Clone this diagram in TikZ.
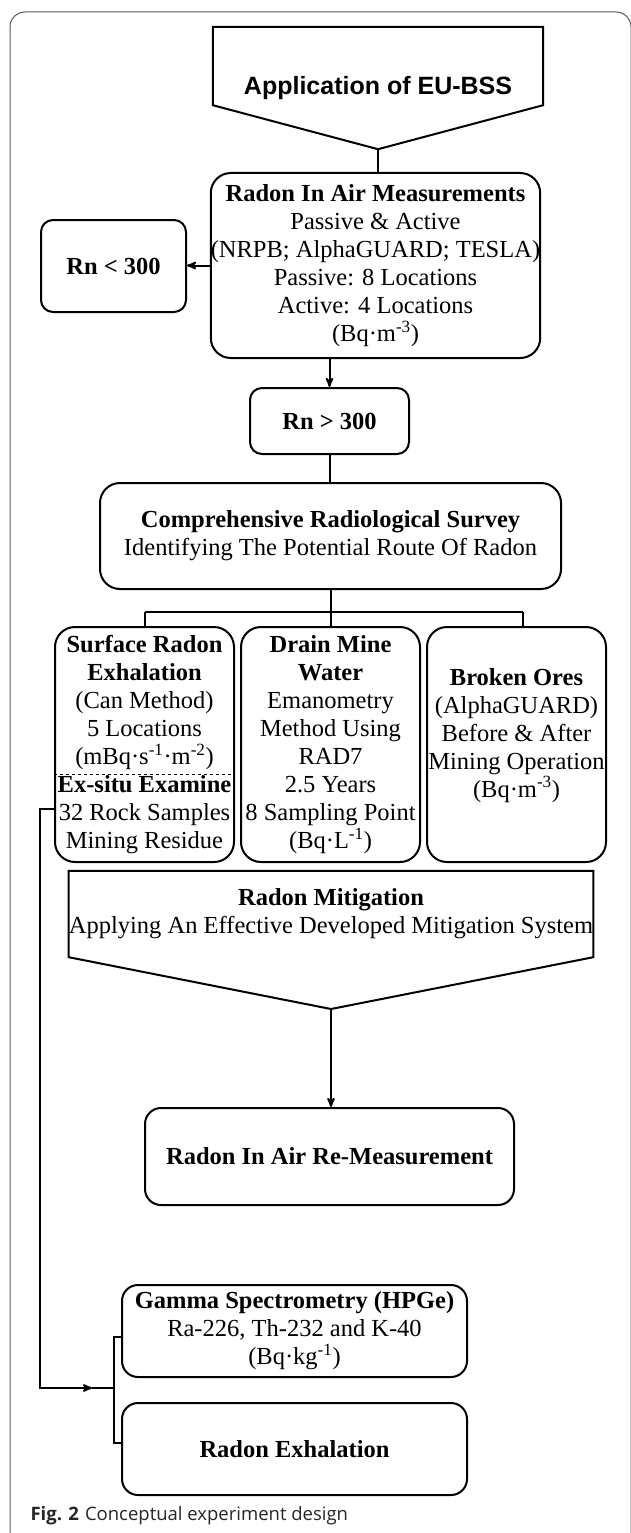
\documentclass[tikz,border=0pt]{standalone}
\usepackage{fontspec}
\setmainfont{Liberation Serif}
\newfontfamily\arialfont{Liberation Sans}
\newfontfamily\capfont{Open Sans}
\usetikzlibrary{arrows}
\tikzset{
	flownode/.style = {align=center, inner sep=0pt, text centered,
		font=\fontsize{24.5}{28}\selectfont},
	flow_box/.style = {flownode, rectangle, draw=black, line width=2pt,
		rounded corners=20pt},% boite arrondie
	flow_small/.style = {flow_box, rounded corners=12pt},% petite boite
	flow_pent/.style = {flownode, rectangle},% texte du pentagone
	flow_line/.style = {line width=2pt, draw=black},% liaison
	frame_line/.style = {line width=1pt, draw=black!65}% cadre de la figure
}

\begin{document}
\begin{tikzpicture}[x=1pt,y=-1pt,>=stealth']
			\useasboundingbox (0,0) rectangle (630,1533);
			\draw [frame_line, rounded corners=15pt] (10,1540) -- (10,12) -- (631,12) -- (631,1540);
			% pentagone du haut
			\node [flow_pent, minimum width=330pt, minimum height=122pt,
				font=\arialfont\bfseries\fontsize{25}{28}\selectfont] (app) at (378,88) {Application of EU-BSS};
			\draw [flow_line] (app.north west) -- (app.north east) -- ([yshift=44pt]app.south east)
				-- (app.south) -- ([yshift=44pt]app.south west) -- cycle;
			\node [flow_box, minimum width=329pt, minimum height=185pt] (air) at (375.5,265.5)
				{\textbf{Radon In Air Measurements}\\Passive \& Active\\(NRPB; AlphaGUARD; TESLA)\\
				Passive: 8 Locations\\Active: 4 Locations\\(Bq·m\textsuperscript{-3})};
			\node [flow_small, minimum width=145pt, minimum height=92pt] (low) at (113.5,266) {\textbf{Rn < 300}};
			\node [flow_small, minimum width=159pt, minimum height=66pt] (high) at (329.5,421) {\textbf{Rn > 300}};
			\node [flow_box, minimum width=461pt, minimum height=106pt] (survey) at (330.5,536)
				{\textbf{Comprehensive Radiological Survey}\\Identifying The Potential Route Of Radon};
			% trois voies
			\node [flow_box, minimum width=179pt, minimum height=235pt] (surf) at (144.5,744.5)
				{\textbf{Surface Radon}\\\textbf{Exhalation}\\(Can Method)\\5 Locations\\
				(mBq·s\textsuperscript{-1}·m\textsuperscript{-2})\\\textbf{Ex-situ Examine}\\32 Rock Samples\\Mining Residue};
			\node [flow_box, minimum width=179pt, minimum height=235pt] (drain) at (330.5,744.5)
				{\textbf{Drain Mine}\\\textbf{Water}\\Emanometry\\Method Using\\RAD7\\2.5 Years\\
				8 Sampling Point\\(Bq·L\textsuperscript{-1})};
			\node [flow_box, minimum width=179pt, minimum height=235pt] (ores) at (516.5,744.5)
				{\textbf{Broken Ores}\\(AlphaGUARD)\\Before \& After\\Mining Operation\\
				(Bq·m\textsuperscript{-3})\rule[-24pt]{0pt}{24pt}};
			\draw [dashed, line width=1pt] ([yshift=-30pt]surf.west) -- ([yshift=-30pt]surf.east);
			% pentagone de mitigation
			\node [flow_pent, minimum width=520pt, minimum height=86pt] (mitig) at (331,914)
				{\textbf{Radon Mitigation}\\Applying An Effective Developed Mitigation System};
			\coordinate (mtip) at (331,1009);
			\draw [flow_line] (mitig.north west) -- (mitig.north east) -- (mitig.south east)
				-- (mtip) -- (mitig.south west) -- cycle;
			\node [flow_box, rounded corners=16pt, minimum width=369pt, minimum height=97pt] (remeas) at (329.5,1156.5)
				{\textbf{Radon In Air Re-Measurement}};
			\node [flow_box, rounded corners=16pt, minimum width=345pt, minimum height=92pt] (gamma) at (294.5,1331)
				{\textbf{Gamma Spectrometry (HPGe)}\\Ra-226, Th-232 and K-40\\(Bq·kg\textsuperscript{-1})};
			\node [flow_box, rounded corners=16pt, minimum width=345pt, minimum height=92pt] (exhal) at (294.5,1449)
				{\textbf{Radon Exhalation}};
			% liaisons
			\draw [flow_line] (app.south) -- (app.south |- air.north);
			\draw [flow_line, ->] (air.west) -- (air.west -| low.east);
			\draw [flow_line, ->] (air.south -| high.north) -- (high.north);
			\draw [flow_line] (high.south) -- (high.south |- survey.north);
			\coordinate (split) at (330.5,612);
			\draw [flow_line] (survey.south) -- (split);
			\draw [flow_line] (surf.north |- split) -- ([xshift=6pt]ores.north |- split);
			\draw [flow_line] (surf.north |- split) -- (surf.north);
			\draw [flow_line] (drain.north |- split) -- (drain.north);
			\draw [flow_line] ([xshift=6pt]ores.north |- split) -- ([xshift=6pt]ores.north);
			\draw [flow_line, ->] (mtip) -- (mtip |- remeas.north);
			\coordinate (feed) at (40,1388);
			\coordinate (feedtip) at (92,1388);
			\coordinate (fork) at (114,1388);
			\draw [flow_line, ->] ([yshift=-64.5pt]surf.west) -| (feed) -- (feedtip);
			\draw [flow_line] (feedtip) -- (fork);
			\draw [flow_line] ([yshift=-6pt]gamma.west) -| (fork) |- ([yshift=6pt]exhal.west);
			% legende
			\node [anchor=base west, font=\capfont\fontsize{18.5}{22}\selectfont, text=black!85] (cap) at (27,1520)
				{\textbf{Fig. 2}\hspace{6pt}Conceptual experiment design};
			;\end{tikzpicture}
\end{document}
